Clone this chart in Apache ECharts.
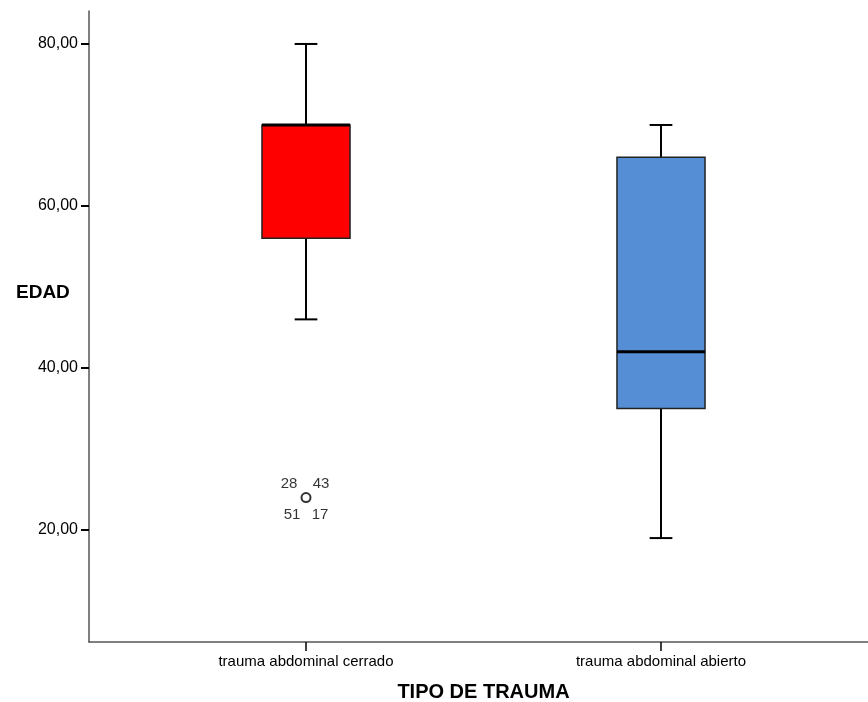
<!DOCTYPE html>
<html>
<head>
<meta charset="utf-8">
<script src="https://cdn.jsdelivr.net/npm/echarts@6/dist/echarts.min.js"></script>
<style>
  html, body { margin: 0; padding: 0; background: #fff; }
  #main { width: 868px; height: 702px; }
</style>
</head>
<body>
<div id="main"></div>
<script>
// datos del diagrama de caja
let categories = ['trauma abdominal cerrado', 'trauma abdominal abierto'];
let lowWhisker = [46, 19];
let q1 = [56, 35];
let median = [70, 42];
let q3 = [70, 66];
let highWhisker = [80, 70];
let outlierValue = 24;            // valor atipico en "cerrado"
let outlierCases = ['28', '43', '51', '17'];
let yTicks = [20, 40, 60, 80];

let boxFill = ['#ff0000', '#558ed5'];
let labelOffsets = [[-17, -14], [15, -14], [-14, 17], [14, 17]];

let myChart = echarts.init(document.getElementById('main'));

let boxData = categories.map(function (c, i) {
    return [i, lowWhisker[i], q1[i], median[i], q3[i], highWhisker[i]];
});

let outlierData = outlierCases.map(function (id, i) {
    return {
        value: [0, outlierValue],
        name: id,
        symbolSize: i === 0 ? 9 : 0,
        label: {
            show: true,
            formatter: id,
            position: 'inside',
            offset: labelOffsets[i],
            color: '#000',
            fontSize: 15
        }
    };
});

function renderBox(params, api) {
    let idx = api.value(0);
    let band = api.size([1, 0])[0];
    let bw = band * 0.248;
    let cw = band * 0.064;
    let lo = api.coord([idx, api.value(1)]);
    let b1 = api.coord([idx, api.value(2)]);
    let md = api.coord([idx, api.value(3)]);
    let b3 = api.coord([idx, api.value(4)]);
    let hi = api.coord([idx, api.value(5)]);
    let x = lo[0];
    let line = { stroke: '#000', lineWidth: 2 };
    return {
        type: 'group',
        children: [
            { type: 'line', shape: { x1: x, y1: hi[1], x2: x, y2: b3[1] }, style: line },
            { type: 'line', shape: { x1: x, y1: b1[1], x2: x, y2: lo[1] }, style: line },
            { type: 'line', shape: { x1: x - cw / 2, y1: hi[1], x2: x + cw / 2, y2: hi[1] }, style: line },
            { type: 'line', shape: { x1: x - cw / 2, y1: lo[1], x2: x + cw / 2, y2: lo[1] }, style: line },
            {
                type: 'rect',
                shape: { x: x - bw / 2, y: b3[1], width: bw, height: b1[1] - b3[1] },
                style: { fill: boxFill[idx], stroke: '#222', lineWidth: 1.5 }
            },
            { type: 'line', shape: { x1: x - bw / 2, y1: md[1], x2: x + bw / 2, y2: md[1] }, style: { stroke: '#000', lineWidth: 3 } }
        ]
    };
}

let option = {
    animation: false,
    backgroundColor: '#ffffff',
    textStyle: { fontFamily: 'Liberation Sans, Arial, sans-serif' },
    title: {
        text: 'EDAD',
        left: 11,
        top: 278,
        textStyle: { fontSize: 19, fontWeight: 'bold', color: '#000', fontFamily: 'Liberation Sans, Arial, sans-serif' }
    },
    grid: [
        { left: 89, right: 0, top: 11, bottom: 60, outerBoundsMode: 'none' },
        { left: 128.5, right: 29.5, top: 11, bottom: 60, outerBoundsMode: 'none' }
    ],
    xAxis: [
        {
            gridIndex: 0, type: 'value', min: 0, max: 1,
            axisLine: { show: true, onZero: false, lineStyle: { color: '#555', width: 1.5 } },
            axisTick: { show: false }, axisLabel: { show: false }, splitLine: { show: false }
        },
        {
            gridIndex: 1, type: 'category', data: categories,
            axisLine: { show: false },
            axisTick: { show: true, alignWithLabel: true, length: 9, lineStyle: { color: '#000', width: 1.5 } },
            axisLabel: { fontSize: 15, color: '#000', margin: 12 },
            name: 'TIPO DE TRAUMA',
            nameLocation: 'middle',
            nameGap: 40,
            nameTextStyle: { fontSize: 20, fontWeight: 'bold', color: '#000' },
            splitLine: { show: false }
        }
    ],
    yAxis: [
        {
            gridIndex: 0, type: 'value', min: 6.17, max: 84.07,
            axisLine: { show: true, lineStyle: { color: '#555', width: 1.5 } },
            axisTick: { show: true, customValues: yTicks, length: 8, lineStyle: { color: '#000', width: 2 } },
            axisLabel: {
                customValues: yTicks, fontSize: 16, color: '#000', margin: 11,
                formatter: function (v) { return v.toFixed(2).replace('.', ','); }
            },
            splitLine: { show: false }
        },
        {
            gridIndex: 1, type: 'value', min: 6.17, max: 84.07, show: false,
            splitLine: { show: false }
        }
    ],
    series: [
        {
            type: 'custom',
            xAxisIndex: 1, yAxisIndex: 1,
            data: boxData,
            encode: { x: 0, y: [1, 2, 3, 4, 5] },
            renderItem: renderBox
        },
        {
            type: 'scatter',
            xAxisIndex: 1, yAxisIndex: 1,
            data: outlierData,
            symbol: 'circle',
            itemStyle: { color: '#fff', borderColor: '#000', borderWidth: 2 },
            z: 5
        }
    ]
};

myChart.setOption(option);
</script>
</body>
</html>
